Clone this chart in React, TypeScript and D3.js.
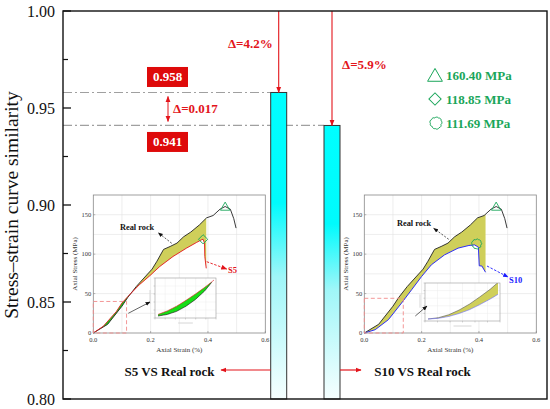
import * as d3 from "d3";

const W = 550;
const H = 409;
const FRAME = { left: 63, top: 11, right: 547, bottom: 399 };
const SERIF = "Liberation Serif, Times New Roman, serif";
const RED = "#e3141b";
const GREEN = "#1aa65a";

// main chart
const categories = ["S5", "S10"];
const similarity = [0.958, 0.941];
const deltaLabels = ["Δ=4.2%", "Δ=5.9%"];
const compareLabels = ["S5 VS Real rock", "S10 VS Real rock"];
const yTicks = [0.8, 0.85, 0.9, 0.95, 1.0];
const peakLabels = ["160.40 MPa", "118.85 MPa", "111.69 MPa"];

// inset curves: [axial strain %, axial stress MPa]
type Pt = [number, number];
const realRock: Pt[] = [
  [0, 0], [0.05, 11], [0.1, 34], [0.12, 45], [0.15, 59], [0.18, 71], [0.205, 81],
  [0.222, 91], [0.245, 106], [0.268, 109.7], [0.292, 114], [0.315, 122], [0.34, 128],
  [0.37, 137], [0.395, 146], [0.418, 149], [0.442, 157], [0.46, 160.4], [0.478, 157],
  [0.49, 145], [0.498, 133],
];
const s5Curve: Pt[] = [
  [0, 0], [0.035, 8.6], [0.08, 27], [0.1, 38], [0.12, 46], [0.16, 61], [0.197, 72.6],
  [0.232, 84.4], [0.278, 97], [0.325, 107.6], [0.36, 114.8], [0.377, 118.1],
  [0.383, 118.85], [0.388, 114], [0.389, 97], [0.394, 82],
];
const s10Curve: Pt[] = [
  [0, 0], [0.038, 4.2], [0.084, 16.9], [0.13, 38], [0.165, 54.8], [0.2, 71.7],
  [0.234, 86.5], [0.28, 99.1], [0.327, 107.6], [0.365, 111], [0.385, 111.69],
  [0.398, 108.8], [0.401, 85.2], [0.41, 85], [0.423, 77],
];
// magnified early part (small nested plots)
const miniReal5: Pt[] = [[0, 0], [0.02, 2], [0.04, 6], [0.06, 12.5], [0.08, 21], [0.1, 32], [0.115, 43]];
const miniS5: Pt[] = [[0, 2], [0.02, 6.5], [0.04, 12.5], [0.06, 20], [0.08, 28], [0.1, 36.5], [0.115, 43.5], [0.12, 46]];
const miniReal10: Pt[] = [[0, 0], [0.02, 1.5], [0.04, 5], [0.06, 10.5], [0.08, 17.5], [0.1, 26], [0.12, 35], [0.135, 43]];
const miniS10: Pt[] = [[0, 0], [0.02, 0.8], [0.04, 3], [0.06, 6.5], [0.08, 11], [0.1, 17], [0.12, 23.5], [0.135, 29]];

const interp = (pts: Pt[], x: number) => {
  if (x <= pts[0][0]) return pts[0][1];
  for (let i = 0; i < pts.length - 1; i++) {
    const [x0, y0] = pts[i];
    const [x1, y1] = pts[i + 1];
    if (x >= x0 && x <= x1) return y0 + ((x - x0) / (x1 - x0)) * (y1 - y0);
  }
  return pts[pts.length - 1][1];
};

// scalloped "cloud" outline made of small outward arcs
const cloudPath = (cx: number, cy: number, r: number) => {
  const n = 9;
  const pts = d3.range(n).map((i) => {
    const a = (i / n) * Math.PI * 2 + 0.3;
    const rr = r * (i % 3 === 0 ? 0.92 : 1);
    return [cx + rr * Math.cos(a), cy + rr * Math.sin(a)];
  });
  const br = r * 0.42;
  let d = `M${pts[0][0]},${pts[0][1]}`;
  for (let i = 1; i <= n; i++) {
    const p = pts[i % n];
    d += ` A${br},${br} 0 0 1 ${p[0]},${p[1]}`;
  }
  return d + "Z";
};

const triPath = (size: number) => d3.symbol(d3.symbolTriangle, size)() || "";
const squarePath = (size: number) => d3.symbol(d3.symbolSquare, size)() || "";

type MiniProps = { x: number; y: number; w: number; h: number; upper: Pt[]; lower: Pt[]; upColor: string; loColor: string; fill: string; xMax: number; yMax: number };
const MiniPlot = ({ x, y, w, h, upper, lower, upColor, loColor, fill, xMax, yMax }: MiniProps) => {
  const xs = d3.scaleLinear().domain([0, xMax]).range([x + 3, x + w - 2]);
  const ys = d3.scaleLinear().domain([0, yMax]).range([y + h - 2, y + 2]);
  const end = Math.min(upper[upper.length - 1][0], lower[lower.length - 1][0]);
  const samples = d3.range(0, end, end / 60).concat([end]);
  const area = d3.area<number>().x((d) => xs(d)).y0((d) => ys(interp(lower, d))).y1((d) => ys(interp(upper, d)));
  const line = d3.line<Pt>().x((d) => xs(d[0])).y((d) => ys(d[1]));
  const id = `clip-${Math.round(x)}`;
  return (
    <g>
      <clipPath id={id}>
        <rect x={x} y={y} width={w} height={h} />
      </clipPath>
      <rect x={x} y={y} width={w} height={h} fill="#fff" />
      {d3.range(1, 6).map((i) => (
        <line key={"v" + i} x1={x + (w * i) / 6} x2={x + (w * i) / 6} y1={y} y2={y + h} stroke="#ececec" strokeWidth={0.5} />
      ))}
      {d3.range(1, 5).map((i) => (
        <line key={"h" + i} x1={x} x2={x + w} y1={y + (h * i) / 5} y2={y + (h * i) / 5} stroke="#ececec" strokeWidth={0.5} />
      ))}
      <g clipPath={`url(#${id})`}>
        <path d={area(samples) || ""} fill={fill} />
        <path d={line(upper) || ""} fill="none" stroke={upColor} strokeWidth={0.6} />
        <path d={line(lower) || ""} fill="none" stroke={loColor} strokeWidth={0.6} />
      </g>
      <rect x={x} y={y} width={w} height={h} fill="none" stroke="#999" strokeWidth={0.6} />
      {d3.range(0, 7).map((i) => (
        <line key={"t" + i} x1={x + (w * i) / 6} x2={x + (w * i) / 6} y1={y + h} y2={y + h + 1.5} stroke="#999" strokeWidth={0.4} />
      ))}
      {d3.range(0, 6).map((i) => (
        <line key={"s" + i} x1={x - 1.5} x2={x} y1={y + (h * i) / 5} y2={y + (h * i) / 5} stroke="#999" strokeWidth={0.4} />
      ))}
      <line x1={x + w * 0.38} x2={x + w * 0.62} y1={y + h + 5} y2={y + h + 5} stroke="#d6d6d6" strokeWidth={1} />
      <line x1={x - 5} x2={x - 5} y1={y + h * 0.3} y2={y + h * 0.65} stroke="#d6d6d6" strokeWidth={1} />
    </g>
  );
};

type InsetProps = {
  fx: number;
  fy: number;
  sim: Pt[];
  simColor: string;
  simName: string;
  fillEnd: number;
  zoomBox: Pt;
  peak: "diamond" | "cloud";
  realLabel: Pt;
  realArrow: [Pt, Pt];
  simLabel: Pt;
  simArrow: [Pt, Pt];
  zoomArrow: [Pt, Pt];
  mini: MiniProps;
};
const Inset = (p: InsetProps) => {
  const w = 172;
  const h = 138;
  const xs = d3.scaleLinear().domain([0, 0.6]).range([p.fx, p.fx + w]);
  const ys = d3.scaleLinear().domain([0, 175]).range([p.fy + h, p.fy]);
  const line = d3.line<Pt>().x((d) => xs(d[0])).y((d) => ys(d[1]));
  const samples = d3.range(0, p.fillEnd, 0.001).concat([p.fillEnd]).map((s) => ({ s, b: interp(realRock, s), m: interp(p.sim, s) }));
  const yellow = d3.area<{ s: number; b: number; m: number }>()
    .defined((d) => d.b >= d.m)
    .x((d) => xs(d.s)).y0((d) => ys(d.m)).y1((d) => ys(d.b));
  const green = d3.area<{ s: number; b: number; m: number }>()
    .defined((d) => d.m >= d.b)
    .x((d) => xs(d.s)).y0((d) => ys(d.b)).y1((d) => ys(d.m));
  const realPeak = realRock[d3.maxIndex(realRock, (d) => d[1])];
  const simPeak = p.sim[d3.maxIndex(p.sim, (d) => d[1])];
  const cx = p.fx + w / 2;
  const cy = p.fy + h / 2;
  return (
    <g fontFamily={SERIF}>
      <rect x={p.fx} y={p.fy} width={w} height={h} fill="#fff" />
      {d3.range(0.1, 0.6, 0.1).map((t) => (
        <line key={"gx" + t} x1={xs(t)} x2={xs(t)} y1={p.fy} y2={p.fy + h} stroke="#e2e2e2" strokeWidth={0.6} />
      ))}
      {d3.range(25, 175, 25).map((t) => (
        <line key={"gy" + t} x1={p.fx} x2={p.fx + w} y1={ys(t)} y2={ys(t)} stroke="#e2e2e2" strokeWidth={0.6} />
      ))}
      <path d={green(samples) || ""} fill="#19d619" />
      <path d={yellow(samples) || ""} fill="#cfcf5a" />
      <path d={line(realRock) || ""} fill="none" stroke="#222" strokeWidth={0.9} />
      <path d={line(p.sim) || ""} fill="none" stroke={p.simColor} strokeWidth={0.9} />
      <rect x={p.fx} y={p.fy} width={w} height={h} fill="none" stroke="#888" strokeWidth={0.8} />
      {[0, 0.2, 0.4, 0.6].map((t) => (
        <g key={"xt" + t}>
          <line x1={xs(t)} x2={xs(t)} y1={p.fy + h} y2={p.fy + h - 2} stroke="#888" strokeWidth={0.6} />
          <text x={xs(t)} y={p.fy + h + 8.5} fontSize={6.5} textAnchor="middle" fill="#333">{t.toFixed(1)}</text>
        </g>
      ))}
      {[0, 50, 100, 150].map((t) => (
        <g key={"yt" + t}>
          <line x1={p.fx} x2={p.fx + 2} y1={ys(t)} y2={ys(t)} stroke="#888" strokeWidth={0.6} />
          <text x={p.fx - 2} y={ys(t) + 2.2} fontSize={6.5} textAnchor="end" fill="#333">{t}</text>
        </g>
      ))}
      <text x={cx} y={p.fy + h + 19} fontSize={7} textAnchor="middle" fill="#333">Axial Strain (%)</text>
      <text transform={`translate(${p.fx - 16},${cy}) rotate(-90)`} fontSize={7} textAnchor="middle" fill="#333">Axial Stress (MPa)</text>
      {/* zoom box */}
      <rect x={xs(0)} y={ys(p.zoomBox[1])} width={xs(p.zoomBox[0]) - xs(0)} height={ys(0) - ys(p.zoomBox[1])} fill="none" stroke="#f28b8b" strokeWidth={0.9} strokeDasharray="4,2.5" />
      <MiniPlot {...p.mini} />
      <line x1={p.zoomArrow[0][0]} y1={p.zoomArrow[0][1]} x2={p.zoomArrow[1][0]} y2={p.zoomArrow[1][1]} stroke="#222" strokeWidth={0.7} markerEnd="url(#headBlack)" />
      {/* peaks */}
      <path d={triPath(38)} transform={`translate(${xs(realPeak[0])},${ys(realPeak[1]) + 1})`} fill="none" stroke={GREEN} strokeWidth={0.9} />
      {p.peak === "diamond" ? (
        <path d={squarePath(42)} transform={`translate(${xs(simPeak[0])},${ys(simPeak[1])}) rotate(45)`} fill="none" stroke={GREEN} strokeWidth={0.9} />
      ) : (
        <path d={cloudPath(xs(simPeak[0]) + 2, ys(simPeak[1]) - 1, 4.6)} fill="none" stroke={GREEN} strokeWidth={0.9} />
      )}
      {/* annotations */}
      <text x={p.realLabel[0]} y={p.realLabel[1]} fontSize={8.3} fontWeight="bold" fill="#111">Real rock</text>
      <line x1={p.realArrow[0][0]} y1={p.realArrow[0][1]} x2={p.realArrow[1][0]} y2={p.realArrow[1][1]} stroke="#111" strokeWidth={0.7} strokeDasharray="2,1.5" markerEnd="url(#headBlack)" />
      <line x1={p.simArrow[0][0]} y1={p.simArrow[0][1]} x2={p.simArrow[1][0]} y2={p.simArrow[1][1]} stroke={p.simColor} strokeWidth={0.9} strokeDasharray="2.5,1.5" markerEnd={p.simColor === RED ? "url(#headRed)" : "url(#headBlue)"} />
      <text x={p.simLabel[0]} y={p.simLabel[1]} fontSize={8.5} fontWeight="bold" fill={p.simColor}>{p.simName}</text>
    </g>
  );
};

export default function App() {
  const yScale = d3.scaleLinear().domain([0.8, 1.0]).range([FRAME.bottom, FRAME.top]);
  const xScale = d3.scalePoint<string>().domain(categories).range([278.7, 332]);
  const barW = 16;
  const minor = d3.range(0.825, 1.0, 0.05);
  const x1 = xScale(categories[0]) || 0;
  const x2 = xScale(categories[1]) || 0;
  const y1 = yScale(similarity[0]);
  const y2 = yScale(similarity[1]);

  return (
    <svg width={W} height={H} style={{ position: "absolute", left: 0, top: 0, background: "#fff" }} fontFamily={SERIF}>
      <defs>
        <linearGradient id="barGrad" x1="0" y1="0" x2="0" y2="1">
          <stop offset="0" stopColor="#00ffff" />
          <stop offset="0.36" stopColor="#00fbfd" />
          <stop offset="0.6" stopColor="#9ff6f8" />
          <stop offset="1" stopColor="#f6ffff" />
        </linearGradient>
        <marker id="headRed" viewBox="0 0 10 10" refX="9" refY="5" markerWidth="6" markerHeight="6" markerUnits="userSpaceOnUse" orient="auto-start-reverse">
          <path d="M0,1 L10,5 L0,9 z" fill={RED} />
        </marker>
        <marker id="headBlack" viewBox="0 0 10 10" refX="9" refY="5" markerWidth="5" markerHeight="5" markerUnits="userSpaceOnUse" orient="auto-start-reverse">
          <path d="M0,1 L10,5 L0,9 z" fill="#111" />
        </marker>
        <marker id="headBlue" viewBox="0 0 10 10" refX="9" refY="5" markerWidth="5.5" markerHeight="5.5" markerUnits="userSpaceOnUse" orient="auto-start-reverse">
          <path d="M0,1 L10,5 L0,9 z" fill="#1a1aff" />
        </marker>
      </defs>

      {/* reference lines */}
      <line x1={FRAME.left} x2={x1 - barW / 2} y1={y1} y2={y1} stroke="#a0a0a0" strokeWidth={1.2} strokeDasharray="9,3,2,3" />
      <line x1={FRAME.left} x2={x2 - barW / 2} y1={y2} y2={y2} stroke="#a0a0a0" strokeWidth={1.2} strokeDasharray="9,3,2,3" />

      {/* bars */}
      {categories.map((c, i) => (
        <rect key={c} x={(xScale(c) || 0) - barW / 2} y={yScale(similarity[i])} width={barW} height={FRAME.bottom - yScale(similarity[i])} fill="url(#barGrad)" stroke="#333" strokeWidth={1} />
      ))}

      {/* value boxes */}
      {similarity.map((v, i) => {
        const by = i === 0 ? yScale(v) - 25.5 : yScale(v) + 6.5;
        return (
          <g key={"box" + i}>
            <rect x={147} y={by} width={41} height={20} fill="#de0a0a" />
            <text x={167.5} y={by + 14.5} fontSize={13} fontWeight="bold" fill="#fff" textAnchor="middle">{v.toFixed(3)}</text>
          </g>
        );
      })}
      <line x1={168} x2={168} y1={y1 + 4} y2={y2 - 4} stroke={RED} strokeWidth={1} markerStart="url(#headRed)" markerEnd="url(#headRed)" />
      <text x={173} y={yScale((similarity[0] + similarity[1]) / 2) + 4.5} fontSize={13} fontWeight="bold" fill={RED}>
        Δ={(similarity[0] - similarity[1]).toFixed(3)}
      </text>

      {/* drop arrows */}
      {categories.map((c, i) => (
        <line key={"arr" + c} x1={xScale(c) || 0} x2={xScale(c) || 0} y1={FRAME.top} y2={yScale(similarity[i])} stroke={RED} strokeWidth={1.1} markerEnd="url(#headRed)" />
      ))}
      <text x={x1 - 6} y={48} fontSize={13} fontWeight="bold" fill={RED} textAnchor="end">{deltaLabels[0]}</text>
      <text x={x2 + 10} y={69} fontSize={13} fontWeight="bold" fill={RED}>{deltaLabels[1]}</text>

      {/* peak legend */}
      <g fill={GREEN} fontSize={13} fontWeight="bold">
        <path d={triPath(95)} transform="translate(435,77)" fill="none" stroke={GREEN} strokeWidth={1} />
        <text x={446} y={79.5}>{peakLabels[0]}</text>
        <path d={squarePath(75)} transform="translate(435,99) rotate(45)" fill="none" stroke={GREEN} strokeWidth={1} />
        <text x={446} y={103.5}>{peakLabels[1]}</text>
        <path d={cloudPath(436, 123, 5.6)} fill="none" stroke={GREEN} strokeWidth={1} />
        <text x={446} y={127.5}>{peakLabels[2]}</text>
      </g>

      {/* insets */}
      <Inset
        fx={93.3}
        fy={195}
        sim={s5Curve}
        simColor={RED}
        simName="S5"
        fillEnd={0.394}
        zoomBox={[0.116, 40]}
        peak="diamond"
        realLabel={[120, 230]}
        realArrow={[[171.7, 243.3], [158.3, 232.7]]}
        simLabel={[228, 273]}
        simArrow={[[206.7, 261.7], [226.7, 269]]}
        zoomArrow={[[128.3, 313.3], [150, 302]]}
        mini={{ x: 155, y: 278, w: 61, h: 40, upper: miniS5, lower: miniReal5, upColor: RED, loColor: "#111", fill: "#16dd16", xMax: 0.12, yMax: 46 }}
      />
      <Inset
        fx={364.3}
        fy={195}
        sim={s10Curve}
        simColor="#1a1aff"
        simName="S10"
        fillEnd={0.423}
        zoomBox={[0.136, 44]}
        peak="cloud"
        realLabel={[397, 226]}
        realArrow={[[448.7, 239.3], [433.7, 228.3]]}
        simLabel={[509, 283]}
        simArrow={[[487, 266], [508, 277]]}
        zoomArrow={[[415.3, 316], [427, 306]]}
        mini={{ x: 425, y: 283, w: 75, h: 38, upper: miniReal10, lower: miniS10, upColor: "#555", loColor: "#6a6aff", fill: "#cfcf5a", xMax: 0.135, yMax: 40 }}
      />

      {/* bottom labels */}
      <line x1={x1 - barW / 2} x2={221} y1={370} y2={370} stroke={RED} strokeWidth={1.2} markerEnd="url(#headRed)" />
      <line x1={x2 + barW / 2} x2={361} y1={370} y2={370} stroke={RED} strokeWidth={1.2} markerEnd="url(#headRed)" />
      <text x={169.5} y={375.5} fontSize={13} fontWeight="bold" textAnchor="middle" fill="#111">{compareLabels[0]}</text>
      <text x={422.5} y={375.5} fontSize={13} fontWeight="bold" textAnchor="middle" fill="#111">{compareLabels[1]}</text>

      {/* axes frame */}
      <rect x={FRAME.left} y={FRAME.top} width={FRAME.right - FRAME.left} height={FRAME.bottom - FRAME.top} fill="none" stroke="#111" strokeWidth={1.4} />
      {yTicks.map((t) => (
        <g key={"yt" + t}>
          <line x1={FRAME.left} x2={FRAME.left + 8} y1={yScale(t)} y2={yScale(t)} stroke="#111" strokeWidth={1.3} />
          <text x={55} y={yScale(t) + 5.5} fontSize={16} textAnchor="end" fill="#111">{t.toFixed(2)}</text>
        </g>
      ))}
      {minor.map((t) => (
        <line key={"mt" + t} x1={FRAME.left} x2={FRAME.left + 5} y1={yScale(t)} y2={yScale(t)} stroke="#111" strokeWidth={1.2} />
      ))}
      <text transform={`translate(18,${(FRAME.top + FRAME.bottom) / 2}) rotate(-90)`} fontSize={19.5} textAnchor="middle" fill="#111">
        Stress–strain curve similarity
      </text>
    </svg>
  );
}
